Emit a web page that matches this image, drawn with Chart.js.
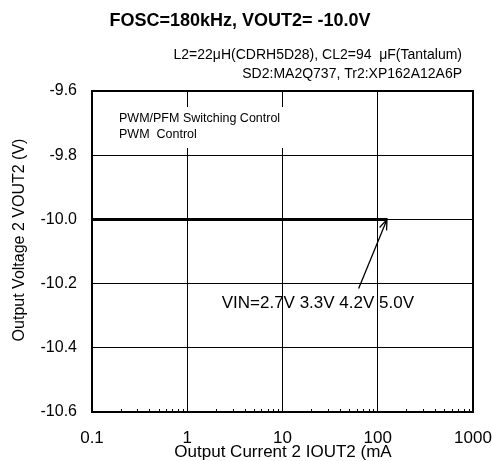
<!DOCTYPE html>
<html>
<head>
<meta charset="utf-8">
<script src="https://cdn.jsdelivr.net/npm/chart.js@4.4.1/dist/chart.umd.min.js"></script>
<style>
  html, body { margin: 0; padding: 0; background: #ffffff; }
  #wrap { width: 492px; height: 461px; }
</style>
</head>
<body>
<div id="wrap"><canvas id="vout2Chart" width="492" height="461"></canvas></div>
<script>
const FONT = "\"Liberation Sans\", Arial, sans-serif";

// load current (mA) and output voltage for each input voltage
const currentMA = [0.1, 0.2, 0.5, 1, 2, 5, 10, 20, 50, 100, 125];
const vout27 = [-10.0, -10.0, -10.0, -10.0, -10.0, -10.0, -10.0, -10.0, -10.0, -10.0, -10.0];
const vout33 = [-10.0, -10.0, -10.0, -10.0, -10.0, -10.0, -10.0, -10.0, -10.0, -10.0, -10.0];
const vout42 = [-10.0, -10.0, -10.0, -10.0, -10.0, -10.0, -10.0, -10.0, -10.0, -10.0, -10.0];
const vout50 = [-10.0, -10.0, -10.0, -10.0, -10.0, -10.0, -10.0, -10.0, -10.0, -10.0, -10.0];
const vinLabels = ["2.7V", "3.3V", "4.2V", "5.0V"];

const xTicks = [0.1, 1, 10, 100, 1000];
const yTicks = [-9.6, -9.8, -10.0, -10.2, -10.4, -10.6];

const titleText = "FOSC=180kHz, VOUT2= -10.0V";
const condLines = [
  "L2=22\u03bcH(CDRH5D28), CL2=94  \u03bcF(Tantalum)",
  "SD2:MA2Q737, Tr2:XP162A12A6P"
];
const modeLines = ["PWM/PFM Switching Control", "PWM  Control"];
const vinNote = "VIN=" + vinLabels.join(" ");
const xTitle = "Output Current 2 IOUT2 (mA";
const yTitle = "Output Voltage 2 VOUT2 (V)";

function toPoints(ys) {
  return currentMA.map((x, i) => ({ x, y: ys[i] }));
}

const extrasPlugin = {
  id: "extras",
  afterDraw(chart) {
    const { ctx, chartArea: a, scales } = chart;
    const xs = scales.x;
    const ys = scales.y;
    ctx.save();

    // frame
    ctx.strokeStyle = "#000";
    ctx.lineWidth = 2;
    ctx.strokeRect(a.left, a.top, a.right - a.left, a.bottom - a.top);

    // minor ticks on the log axis
    ctx.lineWidth = 1;
    ctx.beginPath();
    for (let d = 0; d < xTicks.length - 1; d++) {
      for (let m = 2; m <= 9; m++) {
        const px = Math.round(xs.getPixelForValue(xTicks[d] * m)) + 0.5;
        ctx.moveTo(px, a.bottom);
        ctx.lineTo(px, a.bottom - 3);
      }
    }
    ctx.stroke();

    // titles
    ctx.fillStyle = "#000";
    ctx.textBaseline = "middle";
    ctx.textAlign = "center";
    ctx.font = "bold 18px " + FONT;
    ctx.fillText(titleText, 240, 21);

    ctx.font = "14px " + FONT;
    ctx.textAlign = "right";
    ctx.fillText(condLines[0], 462, 55);
    ctx.fillText(condLines[1], 462, 74);

    // mode box
    ctx.fillStyle = "#fff";
    ctx.fillRect(a.left + 20, a.top + 16, 174, 41);
    ctx.fillStyle = "#000";
    ctx.textAlign = "left";
    ctx.font = "12.5px " + FONT;
    ctx.fillText(modeLines[0], a.left + 27, a.top + 28);
    ctx.fillText(modeLines[1], a.left + 27, a.top + 44);

    // VIN note and arrow
    ctx.font = "17px " + FONT;
    ctx.fillText(vinNote, xs.getPixelForValue(2.3), ys.getPixelForValue(-10.262));
    const x0 = xs.getPixelForValue(63), y0 = ys.getPixelForValue(-10.215);
    const x1 = xs.getPixelForValue(currentMA[currentMA.length - 1]);
    const y1 = ys.getPixelForValue(vout27[vout27.length - 1]);
    const ang = Math.atan2(y1 - y0, x1 - x0);
    ctx.lineWidth = 1.3;
    ctx.beginPath();
    ctx.moveTo(x0, y0);
    ctx.lineTo(x1, y1);
    ctx.moveTo(x1 - 11 * Math.cos(ang - 0.35), y1 - 11 * Math.sin(ang - 0.35));
    ctx.lineTo(x1, y1);
    ctx.lineTo(x1 - 11 * Math.cos(ang + 0.35), y1 - 11 * Math.sin(ang + 0.35));
    ctx.stroke();

    // axis titles
    ctx.textAlign = "center";
    ctx.font = "17px " + FONT;
    ctx.fillText(xTitle, 283, 452);
    ctx.translate(20, 240);
    ctx.rotate(-Math.PI / 2);
    ctx.font = "16px " + FONT;
    ctx.fillText(yTitle, 0, 0);
    ctx.restore();
  }
};

const seriesData = [vout27, vout33, vout42, vout50];

new Chart(document.getElementById("vout2Chart"), {
  type: "line",
  data: {
    datasets: seriesData.map((ys, i) => ({
      label: "VIN=" + vinLabels[i],
      data: toPoints(ys),
      borderColor: "#000",
      borderWidth: 3,
      pointRadius: 0,
      tension: 0
    }))
  },
  options: {
    responsive: false,
    animation: false,
    layout: { padding: { top: 91, right: 19, left: 0, bottom: 0 } },
    plugins: {
      legend: { display: false },
      title: { display: false },
      tooltip: { enabled: false }
    },
    scales: {
      x: {
        type: "logarithmic",
        min: 0.1,
        max: 1000,
        afterBuildTicks: (scale) => {
          scale.ticks = xTicks.map((v) => ({ value: v }));
        },
        afterFit: (scale) => {
          scale.height = 49;
          scale.paddingLeft = 0;
          scale.paddingRight = 0;
        },
        grid: { color: "#000", lineWidth: 1, drawTicks: false },
        border: { display: false },
        ticks: {
          color: "#000",
          padding: 16,
          maxRotation: 0,
          autoSkip: false,
          font: { family: FONT, size: 17 },
          callback: (v) => String(v)
        }
      },
      y: {
        min: -10.6,
        max: -9.6,
        afterBuildTicks: (scale) => {
          scale.ticks = yTicks.map((v) => ({ value: v }));
        },
        afterFit: (scale) => {
          scale.width = 92;
          scale.paddingTop = 0;
          scale.paddingBottom = 0;
        },
        grid: { color: "#000", lineWidth: 1, drawTicks: false },
        border: { display: false },
        ticks: {
          color: "#000",
          padding: 15,
          font: { family: FONT, size: 16 },
          callback: (v) => Number(v).toFixed(1)
        }
      }
    }
  },
  plugins: [extrasPlugin]
});
</script>
</body>
</html>
